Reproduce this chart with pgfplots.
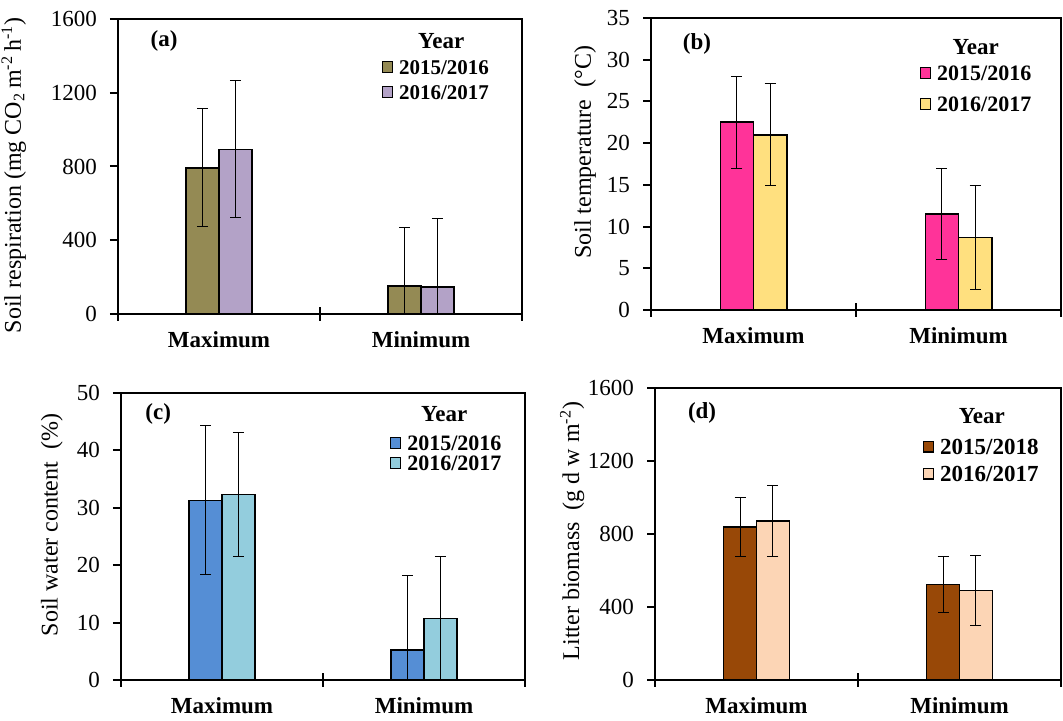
\documentclass[border=0pt]{standalone}
\usepackage{fontspec}
\setmainfont{Liberation Serif}
\usepackage{pgfplots}
\pgfplotsset{compat=1.18}

\definecolor{cOlive}{HTML}{948A54}
\definecolor{cLilac}{HTML}{B3A2C7}
\definecolor{cPink}{HTML}{FF3399}
\definecolor{cYellow}{HTML}{FFE07F}
\definecolor{cBlue}{HTML}{558ED5}
\definecolor{cAqua}{HTML}{93CDDD}
\definecolor{cBrown}{HTML}{984807}
\definecolor{cPeach}{HTML}{FCD5B5}

\tikzset{lbl/.style={font=\bfseries\fontsize{11.5}{13}\selectfont}}

\pgfplotsset{
  panel/.style={
    scale only axis,
    anchor=south west,
    ybar,
    bar width=0.162,
    clip=true,
    /pgf/number format/assume math mode=true,
    /pgf/number format/1000 sep={},
    axis line style={line width=1pt},
    tick pos=left,
    xmin=-0.5, xmax=1.5,
    xtick={0,1},
    xticklabels={Maximum,Minimum},
    minor xtick={-0.5,0.5,1.5},
    major x tick style={draw=none},
    minor x tick style={line width=1pt, black},
    y tick style={line width=1pt, black},
    xtick align=center,
    ytick align=outside,
    major tick length=4pt,
    minor tick length=7pt,
    xticklabel style={font=\bfseries\fontsize{11.5}{13}\selectfont, yshift=-3pt},
    yticklabel style={font=\fontsize{11.5}{13}\selectfont, xshift=-3pt},
    ylabel style={font=\fontsize{12}{14}\selectfont, anchor=center, rotate=0},
    legend cell align=left,
    legend style={draw=none, fill=none, anchor=north west, inner sep=0pt,
      outer sep=0pt, font=\bfseries\fontsize{10.5}{12}\selectfont,
      nodes={inner sep=0pt, text height=7.5pt, text depth=0pt},
      /tikz/column sep=3pt},
    legend image code/.code={
      \draw[#1, draw=black, line width=0.6pt] (0pt,-2.6pt) rectangle (5pt,2.6pt);},
  },
  errb/.style={draw=black, line width=0.8pt,
    error bars/y dir=both, error bars/y explicit,
    error bars/error bar style={line width=0.5pt, black},
    error bars/error mark options={rotate=90, line width=0.5pt, mark size=2.75pt, black}},
}

\begin{document}
\begin{tikzpicture}
\useasboundingbox (0,0) rectangle (531.5pt,360.5pt);

% (a) soil respiration
\begin{axis}[panel, at={(59pt,203.5pt)}, width=202pt, height=147.5pt,
  ymin=0, ymax=1600, ytick={0,400,800,1200,1600},
  ylabel={Soil respiration (mg CO\textsubscript{2}\,m\textsuperscript{-2}\,h\textsuperscript{-1})},
  ylabel style={at={(axis description cs:-0.258,0.47)}},
  legend style={at={(axis description cs:0.653,0.863)}, /tikz/row sep=5pt}]
\addplot[errb, fill=cOlive, bar shift=-0.081] coordinates {(0,792) +- (0,320) (1,152) +- (0,316)};
\addplot[errb, fill=cLilac, bar shift=0.081] coordinates {(0,893) +- (0,372) (1,145) +- (0,375)};
\legend{2015/2016,2016/2017}
\node[lbl] at (rel axis cs:0.114,0.925) {(a)};
\node[lbl] at (rel axis cs:0.80,0.925) {Year};
\end{axis}

% (b) soil temperature
\begin{axis}[panel, at={(325.5pt,205.5pt)}, width=205pt, height=146pt,
  ymin=0, ymax=35, ytick={0,5,...,35},
  ylabel={Soil temperature\ \ (°C)},
  ylabel style={at={(axis description cs:-0.161,0.54)}},
  legend style={at={(axis description cs:0.656,0.837)}, /tikz/row sep=8pt,
    font=\bfseries\fontsize{11}{12}\selectfont}]
\addplot[errb, fill=cPink, bar shift=-0.081] coordinates {(0,22.5) +- (0,5.5) (1,11.5) +- (0,5.5)};
\addplot[errb, fill=cYellow, bar shift=0.081] coordinates {(0,21.0) +- (0,6.1) (1,8.7) +- (0,6.2)};
\legend{2015/2016,2016/2017}
\node[lbl] at (rel axis cs:0.112,0.911) {(b)};
\node[lbl] at (rel axis cs:0.792,0.899) {Year};
\end{axis}

% (c) soil water content
\begin{axis}[panel, at={(60.5pt,20.5pt)}, width=202pt, height=143.5pt,
  ymin=0, ymax=50, ytick={0,10,...,50},
  ylabel={Soil water content\ \ (\%)},
  ylabel style={at={(axis description cs:-0.171,0.54)}},
  legend style={at={(axis description cs:0.666,0.852)}, /tikz/row sep=2.5pt,
    font=\bfseries\fontsize{11}{12}\selectfont}]
\addplot[errb, fill=cBlue, bar shift=-0.081] coordinates {(0,31.3) +- (0,13.0) (1,5.2) +- (0,13.0)};
\addplot[errb, fill=cAqua, bar shift=0.081] coordinates {(0,32.3) +- (0,10.8) (1,10.7) +- (0,10.9)};
\legend{2015/2016,2016/2017}
\node[lbl] at (rel axis cs:0.092,0.927) {(c)};
\node[lbl] at (rel axis cs:0.80,0.927) {Year};
\end{axis}

% (d) litter biomass
\begin{axis}[panel, at={(327.5pt,20.5pt)}, width=203pt, height=146pt,
  ymin=0, ymax=1600, ytick={0,400,800,1200,1600},
  ylabel={Litter biomass\ \ (g d w m\textsuperscript{-2})},
  ylabel style={at={(axis description cs:-0.204,0.51)}},
  legend style={at={(axis description cs:0.660,0.824)}, /tikz/row sep=6pt,
    font=\bfseries\fontsize{11.5}{12}\selectfont}]
\addplot[errb, fill=cBrown, bar shift=-0.081] coordinates {(0,838) +- (0,160) (1,523) +- (0,155)};
\addplot[errb, fill=cPeach, bar shift=0.081] coordinates {(0,870) +- (0,193) (1,490) +- (0,190)};
\legend{2015/2018,2016/2017}
\node[lbl] at (rel axis cs:0.116,0.914) {(d)};
\node[lbl] at (rel axis cs:0.805,0.904) {Year};
\end{axis}
\end{tikzpicture}
\end{document}
